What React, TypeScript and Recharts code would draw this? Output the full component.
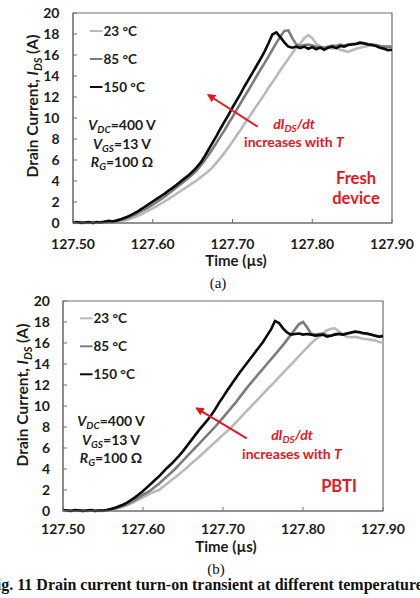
import React from "react";
import { LineChart, Line, XAxis, YAxis, ReferenceArea } from "recharts";

// time base of the scope traces (µs)
const times = [
  127.5, 127.505, 127.51, 127.515, 127.52, 127.525, 127.53, 127.535, 127.54, 127.545,
  127.55, 127.555, 127.56, 127.565, 127.57, 127.575, 127.58, 127.585, 127.59, 127.595,
  127.6, 127.605, 127.61, 127.615, 127.62, 127.625, 127.63, 127.635, 127.64, 127.645,
  127.65, 127.655, 127.66, 127.665, 127.67, 127.675, 127.68, 127.685, 127.69, 127.695,
  127.7, 127.705, 127.71, 127.715, 127.72, 127.725, 127.73, 127.735, 127.74, 127.745,
  127.75, 127.755, 127.76, 127.765, 127.77, 127.775, 127.78, 127.785, 127.79, 127.795,
  127.8, 127.805, 127.81, 127.815, 127.82, 127.825, 127.83, 127.835, 127.84, 127.845,
  127.85, 127.855, 127.86, 127.865, 127.87, 127.875, 127.88, 127.885, 127.89, 127.895,
  127.9,
];

// (a) fresh device, drain current in A
const fresh23 = [
  0.05, 0.0, 0.1, 0.05, 0.0, 0.1, 0.0, 0.05, 0.0, 0.1,
  0.05, 0.1, 0.15, 0.25, 0.35, 0.5, 0.65, 0.8, 1.0, 1.2,
  1.4, 1.6, 1.85, 2.05, 2.3, 2.55, 2.8, 3.05, 3.3, 3.55,
  3.8, 4.05, 4.35, 4.65, 4.95, 5.3, 5.75, 6.2, 6.7, 7.2,
  7.75, 8.3, 8.85, 9.45, 10.0, 10.55, 11.15, 11.7, 12.25, 12.85,
  13.4, 13.95, 14.55, 15.1, 15.65, 16.2, 16.7, 17.1, 17.6, 17.9,
  17.6, 17.1, 16.8, 16.7, 16.75, 16.6, 16.7, 16.5, 16.4, 16.3,
  16.45, 16.6, 16.7, 16.8, 16.85, 16.9, 16.9, 16.85, 16.8, 16.85,
  16.8,
];
const fresh85 = [
  0.0, 0.05, 0.1, 0.0, 0.05, 0.0, 0.05, 0.1, 0.05, 0.1,
  0.1, 0.2, 0.3, 0.4, 0.55, 0.7, 0.9, 1.1, 1.3, 1.5,
  1.75, 2.0, 2.25, 2.5, 2.8, 3.1, 3.4, 3.7, 4.0, 4.3,
  4.65, 5.0, 5.45, 5.95, 6.5, 7.05, 7.65, 8.25, 8.85, 9.5,
  10.1, 10.75, 11.4, 12.05, 12.65, 13.3, 13.95, 14.6, 15.2, 15.85,
  16.5, 17.15, 17.75, 18.3, 18.35, 17.6, 17.0, 16.85, 16.95, 17.0,
  16.9, 16.8, 16.75, 16.7, 16.8, 16.9, 16.85, 17.0, 16.9, 17.0,
  17.05, 17.1, 17.2, 17.15, 17.05, 17.0, 16.95, 16.85, 16.8, 16.75,
  16.8,
];
const fresh150 = [
  0.05, 0.1, 0.0, 0.05, 0.1, 0.0, 0.1, 0.05, 0.15, 0.2,
  0.15, 0.25, 0.35, 0.5, 0.65, 0.85, 1.05, 1.3, 1.55, 1.8,
  2.05, 2.3, 2.55, 2.8, 3.1, 3.35, 3.65, 3.95, 4.25, 4.55,
  4.9, 5.3, 5.75, 6.35, 7.0, 7.65, 8.3, 9.0, 9.65, 10.3,
  11.0, 11.65, 12.3, 13.0, 13.65, 14.3, 14.95, 15.6, 16.3, 17.1,
  17.95, 18.15, 17.7, 17.2, 16.8, 16.7, 16.8, 16.65, 16.8, 16.6,
  16.75, 16.55, 16.7, 16.5, 16.7, 16.8, 16.65, 16.85, 16.8, 16.95,
  17.0, 17.05, 17.15, 17.1, 17.0, 16.95, 16.85, 16.7, 16.6, 16.45,
  16.5,
];

// (b) after PBTI stress
const pbti23 = [
  0.0, 0.05, 0.0, 0.05, 0.0, 0.0, 0.05, 0.0, 0.05, 0.0,
  0.0, 0.05, 0.1, 0.2, 0.3, 0.4, 0.55, 0.7, 0.9, 1.1,
  1.3, 1.5, 1.7, 1.85, 2.0, 2.3, 2.6, 2.9, 3.2, 3.5,
  3.8, 4.15, 4.5, 4.8, 5.15, 5.5, 5.85, 6.2, 6.55, 6.9,
  7.25, 7.6, 7.95, 8.35, 8.75, 9.15, 9.55, 9.95, 10.35, 10.75,
  11.15, 11.55, 11.95, 12.35, 12.75, 13.15, 13.55, 13.95, 14.35, 14.75,
  15.15, 15.55, 15.95, 16.3, 16.6, 16.9, 17.2, 17.35, 17.4, 17.1,
  16.8, 16.6, 16.55, 16.6, 16.5, 16.4, 16.35, 16.3, 16.25, 16.1,
  16.05,
];
const pbti85 = [
  0.05, 0.0, 0.05, 0.0, 0.1, 0.05, 0.0, 0.05, 0.0, 0.05,
  0.05, 0.1, 0.15, 0.25, 0.35, 0.5, 0.65, 0.85, 1.05, 1.3,
  1.55, 1.75, 2.0, 2.3, 2.6, 2.95, 3.3, 3.65, 4.0, 4.4,
  4.8, 5.2, 5.6, 6.0, 6.4, 6.8, 7.2, 7.6, 8.0, 8.45,
  8.9, 9.35, 9.8, 10.25, 10.75, 11.25, 11.75, 12.2, 12.65, 13.1,
  13.55, 14.0, 14.45, 14.9, 15.35, 15.8, 16.3, 16.8, 17.3, 17.8,
  18.0, 17.5, 16.9, 16.8, 16.85, 16.9, 16.75, 16.7, 16.85, 16.9,
  16.8, 16.9, 16.95, 17.05, 17.0, 16.9, 16.85, 16.8, 16.7, 16.65,
  16.7,
];
const pbti150 = [
  0.1, 0.05, 0.0, 0.1, 0.05, 0.0, 0.05, 0.1, 0.0, 0.05,
  0.05, 0.1, 0.2, 0.3, 0.45, 0.6, 0.8, 1.05, 1.3, 1.6,
  1.9, 2.25, 2.6, 2.95, 3.3, 3.7, 4.1, 4.45, 4.85, 5.25,
  5.7, 6.2, 6.7, 7.2, 7.7, 8.15, 8.6, 9.1, 9.65, 10.3,
  10.85, 11.45, 12.0, 12.55, 13.1, 13.6, 14.1, 14.6, 15.1, 15.6,
  16.1, 16.7, 17.3, 18.1, 17.9, 17.4, 17.0, 16.8, 16.85, 16.9,
  16.8, 16.85, 16.8, 16.7, 16.75, 16.8, 16.6, 16.7, 16.8, 16.85,
  16.8, 16.9, 17.0, 17.1, 17.05, 16.95, 16.9, 16.8, 16.7, 16.6,
  16.65,
];

const xTicks = [127.5, 127.6, 127.7, 127.8, 127.9];
const yTicks = [0, 2, 4, 6, 8, 10, 12, 14, 16, 18, 20];
const legendLabels = ["23 °C", "85 °C", "150 °C"];
const traceColors = ["#b9b9b9", "#7c7c7c", "#0a0a0a"];

const SANS = "Lato, 'Liberation Sans', Arial, sans-serif";
const SERIF = "'Liberation Serif', 'Times New Roman', serif";
const RED = "#e5161d";
const AXIS = "#6e6e6e";
const INK = "#1c1c1c";

function buildRows(s23: number[], s85: number[], s150: number[]) {
  return times.map((t, i) => ({ t, s23: s23[i], s85: s85[i], s150: s150[i] }));
}

type ChartProps = {
  rows: ReturnType<typeof buildRows>;
  yAxisWidth: number;
  rightMargin: number;
  xTickMargin: number;
  yTickMargin: number;
};

function TransientChart({ rows, yAxisWidth, rightMargin, xTickMargin, yTickMargin }: ChartProps) {
  const tickStyle = { fill: INK, fontSize: 14, fontWeight: 700, fontFamily: SANS };
  return (
    <LineChart
      width={420}
      height={270}
      data={rows}
      margin={{ top: 13, right: rightMargin, bottom: 0, left: 0 }}
    >
      <XAxis
        dataKey="t"
        type="number"
        domain={[127.5, 127.9]}
        ticks={xTicks}
        interval={0}
        tickFormatter={(v: number) => v.toFixed(2)}
        tickSize={-4}
        tickMargin={xTickMargin}
        height={47}
        stroke={AXIS}
        tick={tickStyle}
      />
      <YAxis
        type="number"
        domain={[0, 20]}
        ticks={yTicks}
        interval={0}
        width={yAxisWidth}
        tickSize={-4}
        tickMargin={yTickMargin}
        stroke={AXIS}
        tick={tickStyle}
      />
      {/* plot frame */}
      <ReferenceArea x1={127.5} x2={127.9} y1={0} y2={20} fill="none" fillOpacity={0} stroke={AXIS} strokeWidth={1.2} />
      <Line dataKey="s23" stroke={traceColors[0]} strokeWidth={2.6} dot={false} isAnimationActive={false} />
      <Line dataKey="s85" stroke={traceColors[1]} strokeWidth={2.6} dot={false} isAnimationActive={false} />
      <Line dataKey="s150" stroke={traceColors[2]} strokeWidth={2.6} dot={false} isAnimationActive={false} />
    </LineChart>
  );
}

type Pt = [number, number];

type OverlayProps = {
  id: string;
  yLabel: Pt;
  xLabel: Pt;
  caption: Pt;
  captionText: string;
  legend: Pt;
  bias: Pt;
  arrowFrom: Pt;
  arrowTo: Pt;
  slope: Pt;
  tag: Pt;
  tagLines: string[];
};

function Overlay(p: OverlayProps) {
  const sub = { fontSize: 10, dy: 3 };
  return (
    <svg
      width={420}
      height={300}
      style={{ position: "absolute", left: 0, top: 0, overflow: "visible" }}
      fontFamily={SANS}
      fontWeight={700}
    >
      <defs>
        <marker id={`head-${p.id}`} viewBox="0 0 10 10" refX="8" refY="5" markerWidth="4.2" markerHeight="4.2" orient="auto">
          <path d="M0,0 L10,5 L0,10 z" fill={RED} />
        </marker>
      </defs>

      <text transform={`translate(${p.yLabel[0]},${p.yLabel[1]}) rotate(-90)`} textAnchor="middle" fontSize={15.5} fill={INK}>
        Drain Current, <tspan fontStyle="italic">I</tspan>
        <tspan fontStyle="italic" fontSize={11} dy={4}>DS</tspan>
        <tspan dy={-4}> (A)</tspan>
      </text>

      <text x={p.xLabel[0]} y={p.xLabel[1]} textAnchor="middle" fontSize={15} fill={INK}>
        Time (µs)
      </text>

      <text x={p.caption[0]} y={p.caption[1]} textAnchor="middle" fontSize={15} fontWeight={400} fontFamily={SERIF} fill="#111">
        {p.captionText}
      </text>

      {legendLabels.map((label, i) => {
        const y = p.legend[1] + i * 28;
        return (
          <g key={label}>
            <line x1={p.legend[0]} x2={p.legend[0] + 12.5} y1={y} y2={y} stroke={traceColors[i]} strokeWidth={2} />
            <text x={p.legend[0] + 13.5} y={y + 4.5} fontSize={13.5} fill={INK}>
              {label}
            </text>
          </g>
        );
      })}

      <g fontSize={14} fill={INK} textAnchor="middle">
        <text x={p.bias[0]} y={p.bias[1]}>
          <tspan fontStyle="italic">V</tspan>
          <tspan fontStyle="italic" fontSize={sub.fontSize} dy={sub.dy}>DC</tspan>
          <tspan dy={-sub.dy}>=400 V</tspan>
        </text>
        <text x={p.bias[0]} y={p.bias[1] + 18.5}>
          <tspan fontStyle="italic">V</tspan>
          <tspan fontStyle="italic" fontSize={sub.fontSize} dy={sub.dy}>GS</tspan>
          <tspan dy={-sub.dy}>=13 V</tspan>
        </text>
        <text x={p.bias[0]} y={p.bias[1] + 36.5}>
          <tspan fontStyle="italic">R</tspan>
          <tspan fontStyle="italic" fontSize={sub.fontSize} dy={sub.dy}>G</tspan>
          <tspan dy={-sub.dy}>=100 Ω</tspan>
        </text>
      </g>

      <line
        x1={p.arrowFrom[0]}
        y1={p.arrowFrom[1]}
        x2={p.arrowTo[0]}
        y2={p.arrowTo[1]}
        stroke={RED}
        strokeWidth={2}
        markerEnd={`url(#head-${p.id})`}
      />

      <g fill={RED} fontSize={14} textAnchor="middle">
        <text x={p.slope[0]} y={p.slope[1]} fontStyle="italic">
          dI<tspan fontSize={sub.fontSize} dy={sub.dy}>DS</tspan>
          <tspan dy={-sub.dy}>/dt</tspan>
        </text>
        <text x={p.slope[0]} y={p.slope[1] + 18.5}>
          increases with <tspan fontStyle="italic">T</tspan>
        </text>
      </g>

      <g fill={RED} fontSize={16.5} textAnchor="middle">
        {p.tagLines.map((line, i) => (
          <text key={line} x={p.tag[0]} y={p.tag[1] + i * 20}>
            {line}
          </text>
        ))}
      </g>
    </svg>
  );
}

export default function App() {
  const freshRows = buildRows(fresh23, fresh85, fresh150);
  const pbtiRows = buildRows(pbti23, pbti85, pbti150);
  return (
    <div style={{ position: "absolute", left: 0, top: 0, width: 420, height: 598, background: "#fff", overflow: "hidden" }}>
      <div style={{ position: "absolute", left: 0, top: 0, width: 420, height: 300 }}>
        <TransientChart rows={freshRows} yAxisWidth={73} rightMargin={28} xTickMargin={20} yTickMargin={17.5} />
        <Overlay
          id="a"
          yLabel={[38, 106]}
          xLabel={[236, 265.5]}
          caption={[218, 287.5]}
          captionText="(a)"
          legend={[90, 31]}
          bias={[122, 130]}
          arrowFrom={[257.7, 126.7]}
          arrowTo={[208.3, 95]}
          slope={[294, 128.5]}
          tag={[356, 184]}
          tagLines={["Fresh", "device"]}
        />
      </div>
      <div style={{ position: "absolute", left: 0, top: 288, width: 420, height: 300 }}>
        <TransientChart rows={pbtiRows} yAxisWidth={63} rightMargin={37} xTickMargin={17} yTickMargin={17} />
        <Overlay
          id="b"
          yLabel={[28, 107]}
          xLabel={[226, 264]}
          caption={[216, 286]}
          captionText="(b)"
          legend={[80, 30.3]}
          bias={[111, 138]}
          arrowFrom={[246.7, 150.3]}
          arrowTo={[196.7, 120.3]}
          slope={[292, 152]}
          tag={[339, 203.7]}
          tagLines={["PBTI"]}
        />
      </div>
      <svg width={420} height={22} style={{ position: "absolute", left: 0, top: 576 }}>
        <text x={-13} y={13.5} fontFamily={SERIF} fontWeight={700} fontSize={16} fill="#111">
          Fig. 11 Drain current turn-on transient at different temperatures.
        </text>
      </svg>
    </div>
  );
}
